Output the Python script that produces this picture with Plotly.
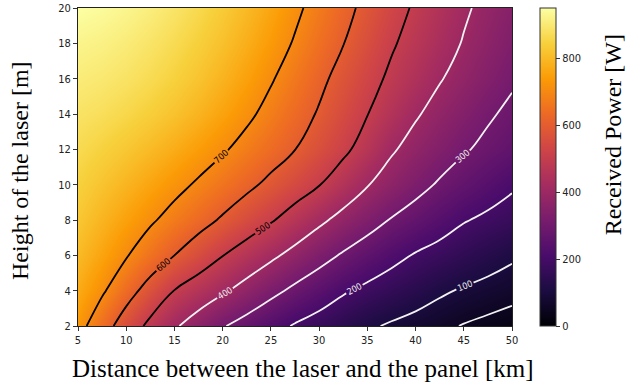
import plotly.graph_objects as go

# Distance between laser and panel [km]
distance_km = [5, 7.5, 10, 12.5, 15, 17.5, 20, 22.5, 25, 27.5, 30, 32.5, 35, 37.5, 40, 42.5, 45, 47.5, 50]
# Height of the laser [m]
height_m = [2, 4, 6, 8, 10, 12, 14, 16, 18, 20]

# Received power [W] (rows = heights, columns = distances)
p_h2 = [733, 641, 555, 478, 411, 357, 306, 267, 229, 193, 166, 138, 111, 91, 76, 62, 47, 36, 26]
p_h4 = [770, 712, 636, 565, 498, 455, 412, 368, 323, 282, 246, 209, 182, 158, 134, 110, 93, 80, 68]
p_h6 = [800, 756, 706, 653, 600, 551, 502, 459, 417, 374, 331, 291, 257, 224, 194, 173, 151, 130, 110]
p_h8 = [825, 788, 750, 711, 671, 631, 590, 549, 508, 463, 417, 374, 334, 295, 265, 235, 205, 186, 169]
p_h10 = [845, 817, 788, 757, 724, 689, 654, 618, 581, 542, 503, 454, 404, 365, 326, 291, 264, 237, 210]
p_h12 = [865, 846, 825, 800, 773, 742, 709, 673, 637, 601, 559, 517, 466, 409, 372, 339, 307, 283, 261]
p_h14 = [885, 874, 858, 839, 815, 786, 753, 716, 675, 634, 593, 547, 502, 455, 408, 373, 341, 309, 285]
p_h16 = [905, 897, 884, 867, 845, 817, 785, 749, 707, 663, 618, 573, 529, 485, 445, 405, 373, 341, 310]
p_h18 = [925, 917, 905, 888, 867, 841, 811, 776, 737, 693, 647, 602, 556, 509, 470, 432, 395, 363, 332]
p_h20 = [950, 941, 927, 910, 888, 862, 832, 798, 759, 716, 670, 624, 578, 533, 489, 450, 411, 378, 348]
power = [p_h2, p_h4, p_h6, p_h8, p_h10, p_h12, p_h14, p_h16, p_h18, p_h20]

x_ticks = [5, 10, 15, 20, 25, 30, 35, 40, 45, 50]
y_ticks = [2, 4, 6, 8, 10, 12, 14, 16, 18, 20]
cbar_ticks = [0, 200, 400, 600, 800]

tick_font = dict(family="DejaVu Sans Condensed, DejaVu Sans", size=11, color="#222")
serif = "Liberation Serif, Times New Roman, serif"

fig = go.Figure()

fig.add_trace(go.Heatmap(
    x=distance_km, y=height_m, z=power,
    colorscale="Inferno", zmin=0, zmax=950, zsmooth="best",
    colorbar=dict(
        x=1.0645, xanchor="left", xpad=0, y=0.5, yanchor="middle", len=1, lenmode="fraction",
        thickness=16, outlinewidth=1, outlinecolor="#333",
        tickvals=cbar_ticks, ticks="outside", ticklen=4, tickcolor="#333",
        tickfont=tick_font, ypad=0,
    ),
    hoverinfo="skip",
))

label_font = dict(size=9, family="DejaVu Sans Condensed, DejaVu Sans")

# Black contour lines (500, 600, 700)
fig.add_trace(go.Contour(
    x=distance_km, y=height_m, z=power, showscale=False,
    contours=dict(start=500, end=700, size=100, coloring="none",
                  showlabels=True, labelfont=dict(color="black", **label_font)),
    line=dict(color="black", width=1.8, smoothing=1.3),
    hoverinfo="skip",
))
# White contour lines (100..400)
fig.add_trace(go.Contour(
    x=distance_km, y=height_m, z=power, showscale=False,
    contours=dict(start=100, end=400, size=100, coloring="none",
                  showlabels=True, labelfont=dict(color="#eee", **label_font)),
    line=dict(color="#f2f2f2", width=1.8, smoothing=1.3),
    hoverinfo="skip",
))
# White contour line (50)
fig.add_trace(go.Contour(
    x=distance_km, y=height_m, z=power, showscale=False,
    contours=dict(start=50, end=50, size=50, coloring="none",
                  showlabels=True, labelfont=dict(color="#eee", **label_font)),
    line=dict(color="#f2f2f2", width=1.8, smoothing=1.3),
    hoverinfo="skip",
))

fig.update_xaxes(
    range=[5, 50], tickvals=x_ticks, ticks="outside", ticklen=4, tickcolor="#333",
    showline=True, linecolor="#222", linewidth=1, mirror=True, showgrid=False, zeroline=False,
    tickfont=tick_font, automargin=False,
)
fig.update_yaxes(
    range=[2, 20], tickvals=y_ticks, ticks="outside", ticklen=4, tickcolor="#333",
    showline=True, linecolor="#222", linewidth=1, mirror=True, showgrid=False, zeroline=False,
    tickfont=tick_font, automargin=False,
)

fig.add_annotation(
    text="Distance between the laser and the panel [km]", xref="paper", yref="paper",
    x=0.518, y=-0.135, xanchor="center", yanchor="middle", showarrow=False,
    font=dict(family=serif, size=25, color="black"),
)
fig.add_annotation(
    text="Height of the laser [m]", textangle=-90, xref="paper", yref="paper",
    x=-0.134, y=0.49, xanchor="center", yanchor="middle", showarrow=False,
    font=dict(family=serif, size=24, color="black"),
)
fig.add_annotation(
    text="Received Power [W]", textangle=-90, xref="paper", yref="paper",
    x=1.233, y=0.6, xanchor="center", yanchor="middle", showarrow=False,
    font=dict(family=serif, size=24, color="black"),
)

fig.update_layout(
    width=626, height=387,
    margin=dict(l=78, r=114, t=8, b=61, autoexpand=False),
    paper_bgcolor="white", plot_bgcolor="white",
    showlegend=False,
)

fig.write_html("out.html", config={"displayModeBar": False},
               post_script="document.body.style.margin='0';")
